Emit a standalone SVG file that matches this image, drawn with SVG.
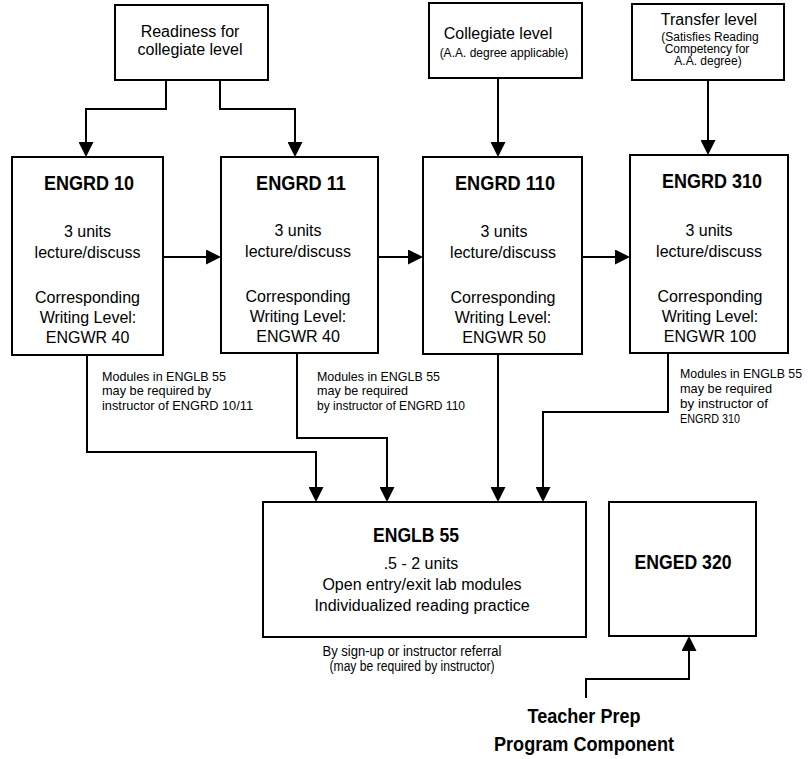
<svg xmlns="http://www.w3.org/2000/svg" width="809" height="759" viewBox="0 0 809 759">
<defs>
<marker id="ah" markerUnits="userSpaceOnUse" markerWidth="15" markerHeight="15" refX="13" refY="7.5" orient="auto">
<path d="M0,0 L15,7.5 L0,15 z" fill="#000"/>
</marker>
<style>
.box{fill:#fff;stroke:#000;stroke-width:2}
.t{font-family:"Liberation Sans",Arial,Helvetica,sans-serif;fill:#000;text-anchor:middle}
.b{font-weight:bold;font-size:20px}
.m{font-size:16px}
.s{font-size:12px}
.n{font-family:"Liberation Sans",Arial,Helvetica,sans-serif;fill:#000;font-size:13.5px}
.c{font-size:14px}
.ln{fill:none;stroke:#000;stroke-width:2}
.ar{marker-end:url(#ah)}
</style>
</defs>
<rect width="809" height="759" fill="#fff"/>

<g id="connectors">
<path class="ln ar" d="M166,80 V109 H86 V155"/>
<path class="ln ar" d="M220,80 V109 H295 V155"/>
<path class="ln ar" d="M498,78 V155"/>
<path class="ln ar" d="M708,80 V153"/>
<path class="ln ar" d="M163,257 H219"/>
<path class="ln ar" d="M378,257 H421"/>
<path class="ln ar" d="M582,257 H628"/>
<path class="ln ar" d="M87,355 V452 H316 V500"/>
<path class="ln ar" d="M297,353 V438 H387 V500"/>
<path class="ln ar" d="M498,354 V500"/>
<path class="ln ar" d="M668,353 V412 H543 V500"/>
<path class="ln ar" d="M586,698 V679 H689 V638"/>
</g>

<g id="readiness">
<rect class="box" x="115" y="5" width="153" height="75"/>
<text class="t m" x="190" y="37">Readiness for</text>
<text class="t m" x="190" y="55">collegiate level</text>
</g>

<g id="collegiate">
<rect class="box" x="429" y="3" width="153" height="75"/>
<text class="t m" x="498" y="39">Collegiate level</text>
<text class="t s" x="504" y="57">(A.A. degree applicable)</text>
</g>

<g id="transfer">
<rect class="box" x="632" y="4" width="152" height="76"/>
<text class="t m" x="709" y="25">Transfer level</text>
<text class="t s" x="710" y="41">(Satisfies Reading</text>
<text class="t s" x="707" y="53">Competency for</text>
<text class="t s" x="708" y="65">A.A. degree)</text>
</g>

<g id="engrd10">
<rect class="box" x="12" y="157" width="151" height="198"/>
<text class="t b" x="89" y="190" textLength="90" lengthAdjust="spacingAndGlyphs">ENGRD 10</text>
<text class="t m" x="87.5" y="237">3 units</text>
<text class="t m" x="87.5" y="258">lecture/discuss</text>
<text class="t m" x="87.5" y="303">Corresponding</text>
<text class="t m" x="88" y="323">Writing Level:</text>
<text class="t m" x="87.5" y="343">ENGWR 40</text>
</g>

<g id="engrd11">
<rect class="box" x="221" y="157" width="157" height="196"/>
<text class="t b" x="301" y="190" textLength="90" lengthAdjust="spacingAndGlyphs">ENGRD 11</text>
<text class="t m" x="298" y="236">3 units</text>
<text class="t m" x="298" y="257">lecture/discuss</text>
<text class="t m" x="298" y="302">Corresponding</text>
<text class="t m" x="298" y="322">Writing Level:</text>
<text class="t m" x="298" y="342">ENGWR 40</text>
</g>

<g id="engrd110">
<rect class="box" x="423" y="157" width="159" height="197"/>
<text class="t b" x="505" y="190" textLength="100" lengthAdjust="spacingAndGlyphs">ENGRD 110</text>
<text class="t m" x="504" y="237">3 units</text>
<text class="t m" x="503" y="258">lecture/discuss</text>
<text class="t m" x="503" y="303">Corresponding</text>
<text class="t m" x="503" y="323">Writing Level:</text>
<text class="t m" x="504" y="343">ENGWR 50</text>
</g>

<g id="engrd310">
<rect class="box" x="630" y="155" width="158" height="198"/>
<text class="t b" x="712" y="188" textLength="100" lengthAdjust="spacingAndGlyphs">ENGRD 310</text>
<text class="t m" x="709" y="236">3 units</text>
<text class="t m" x="709" y="257">lecture/discuss</text>
<text class="t m" x="710" y="302">Corresponding</text>
<text class="t m" x="710" y="322">Writing Level:</text>
<text class="t m" x="710" y="342">ENGWR 100</text>
</g>

<g id="note10">
<text class="n" x="102" y="381" textLength="124" lengthAdjust="spacingAndGlyphs">Modules in ENGLB 55</text>
<text class="n" x="102" y="395" textLength="109" lengthAdjust="spacingAndGlyphs">may be required by</text>
<text class="n" x="102" y="410" textLength="151" lengthAdjust="spacingAndGlyphs">instructor of ENGRD 10/11</text>
</g>

<g id="note110">
<text class="n" x="317" y="381" textLength="123" lengthAdjust="spacingAndGlyphs">Modules in ENGLB 55</text>
<text class="n" x="317" y="395" textLength="91" lengthAdjust="spacingAndGlyphs">may be required</text>
<text class="n" x="317" y="410" textLength="148" lengthAdjust="spacingAndGlyphs">by instructor of ENGRD 110</text>
</g>

<g id="note310">
<text class="n" x="680" y="378" textLength="122" lengthAdjust="spacingAndGlyphs">Modules in ENGLB 55</text>
<text class="n" x="680" y="393" textLength="92" lengthAdjust="spacingAndGlyphs">may be required</text>
<text class="n" x="680" y="408" textLength="88" lengthAdjust="spacingAndGlyphs">by instructor of</text>
<text class="n" x="680" y="423" textLength="60" lengthAdjust="spacingAndGlyphs">ENGRD 310</text>
</g>

<g id="englb55">
<rect class="box" x="263" y="502" width="323" height="135"/>
<text class="t b" x="416" y="542" textLength="86" lengthAdjust="spacingAndGlyphs">ENGLB 55</text>
<text class="t m" x="421" y="569">.5 - 2 units</text>
<text class="t m" x="422" y="590">Open entry/exit lab modules</text>
<text class="t m" x="422" y="611">Individualized reading practice</text>
<text class="t c" x="412" y="656" textLength="179" lengthAdjust="spacingAndGlyphs">By sign-up or instructor referral</text>
<text class="t c" x="412" y="671" textLength="165" lengthAdjust="spacingAndGlyphs">(may be required by instructor)</text>
</g>

<g id="enged320">
<rect class="box" x="609" y="502" width="147" height="134"/>
<text class="t b" x="683" y="569" textLength="97" lengthAdjust="spacingAndGlyphs">ENGED 320</text>
</g>

<g id="teacherprep">
<text class="t b" x="584" y="723" textLength="113" lengthAdjust="spacingAndGlyphs">Teacher Prep</text>
<text class="t b" x="584" y="751" textLength="180" lengthAdjust="spacingAndGlyphs">Program Component</text>
</g>
</svg>
